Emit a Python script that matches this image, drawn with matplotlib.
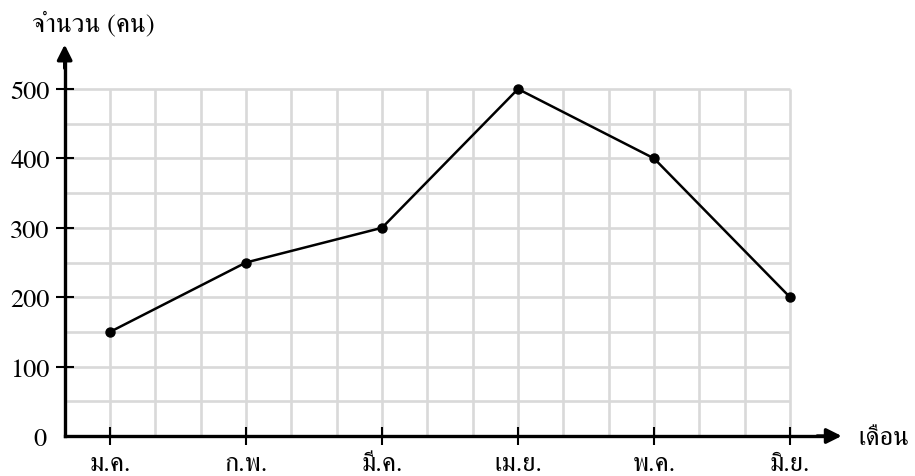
import matplotlib
matplotlib.use("Agg")
import matplotlib.pyplot as plt
import numpy as np

months = ["ม.ค.", "ก.พ.", "มี.ค.", "เม.ย.", "พ.ค.", "มิ.ย."]
values = [150, 250, 300, 500, 400, 200]
y_ticks = [100, 200, 300, 400, 500]
y_title = "จำนวน (คน)"
x_title = "เดือน"

FONT = ['FreeSerif', 'DejaVu Serif']
plt.rcParams['font.family'] = FONT
FS = 19

W, H = 915, 477
fig = plt.figure(figsize=(W / 100, H / 100), dpi=100)
ax = fig.add_axes([0, 0, 1, 1])

# pixel mapping: month i -> 110 + 136*i ; value v -> 437 - 0.694*v (from top)
px_per_month = 136.0
px_per_unit = 0.694
x0_px, y0_px = 110.0, 437.0
ax.set_xlim((0 - x0_px) / px_per_month, (W - x0_px) / px_per_month)
ax.set_ylim((y0_px - H) / px_per_unit, y0_px / px_per_unit)

x = np.arange(len(months))
x_left = -1 / 3
x_right = len(months) - 1

# grid
grid_x = np.arange(-1, 3 * x_right + 1) / 3
grid_y = np.arange(0, 501, 50)
ax.vlines(grid_x, 0, 500, color='#d9d9d9', lw=1.9, zorder=1)
ax.hlines(grid_y, x_left, x_right, color='#d9d9d9', lw=1.9, zorder=1)

# axes spines
for s in ['top', 'right']:
    ax.spines[s].set_visible(False)
ax.spines['left'].set_position(('data', x_left))
ax.spines['bottom'].set_position(('data', 0))
ax.spines['left'].set_bounds(0, 540)
ax.spines['bottom'].set_bounds(x_left, 5.25)
for s in ['left', 'bottom']:
    ax.spines[s].set_linewidth(2.4)
    ax.spines[s].set_zorder(3)

ax.set_xticks(x)
ax.set_xticklabels(months, fontsize=FS)
ax.set_yticks(y_ticks)
ax.set_yticklabels([str(v) for v in y_ticks], fontsize=FS)
ax.tick_params(axis='x', direction='inout', length=13.5, width=1.5, pad=5)
ax.tick_params(axis='y', direction='inout', length=12.5, width=1.5, pad=4.5)

# arrows
ax.annotate('', xy=(5.38, 0), xytext=(5.2, 0),
            arrowprops=dict(arrowstyle='-|>,head_length=0.9,head_width=0.45',
                            color='black', lw=2.4, shrinkA=0, shrinkB=0), zorder=4)
ax.annotate('', xy=(x_left, 564), xytext=(x_left, 530),
            arrowprops=dict(arrowstyle='-|>,head_length=0.9,head_width=0.45',
                            color='black', lw=2.4, shrinkA=0, shrinkB=0), zorder=4)

# data line
ax.plot(x, values, color='black', lw=1.8, marker='o', markersize=6.5, zorder=5)

# labels
ax.text(x_left - 0.13, -5, "0", ha='right', va='center', fontsize=FS)
ax.text(-0.575, 595, y_title, ha='left', va='center', fontsize=FS)
ax.text(5.5, -3, x_title, ha='left', va='center', fontsize=FS)

fig.savefig("out.png", dpi=100)
